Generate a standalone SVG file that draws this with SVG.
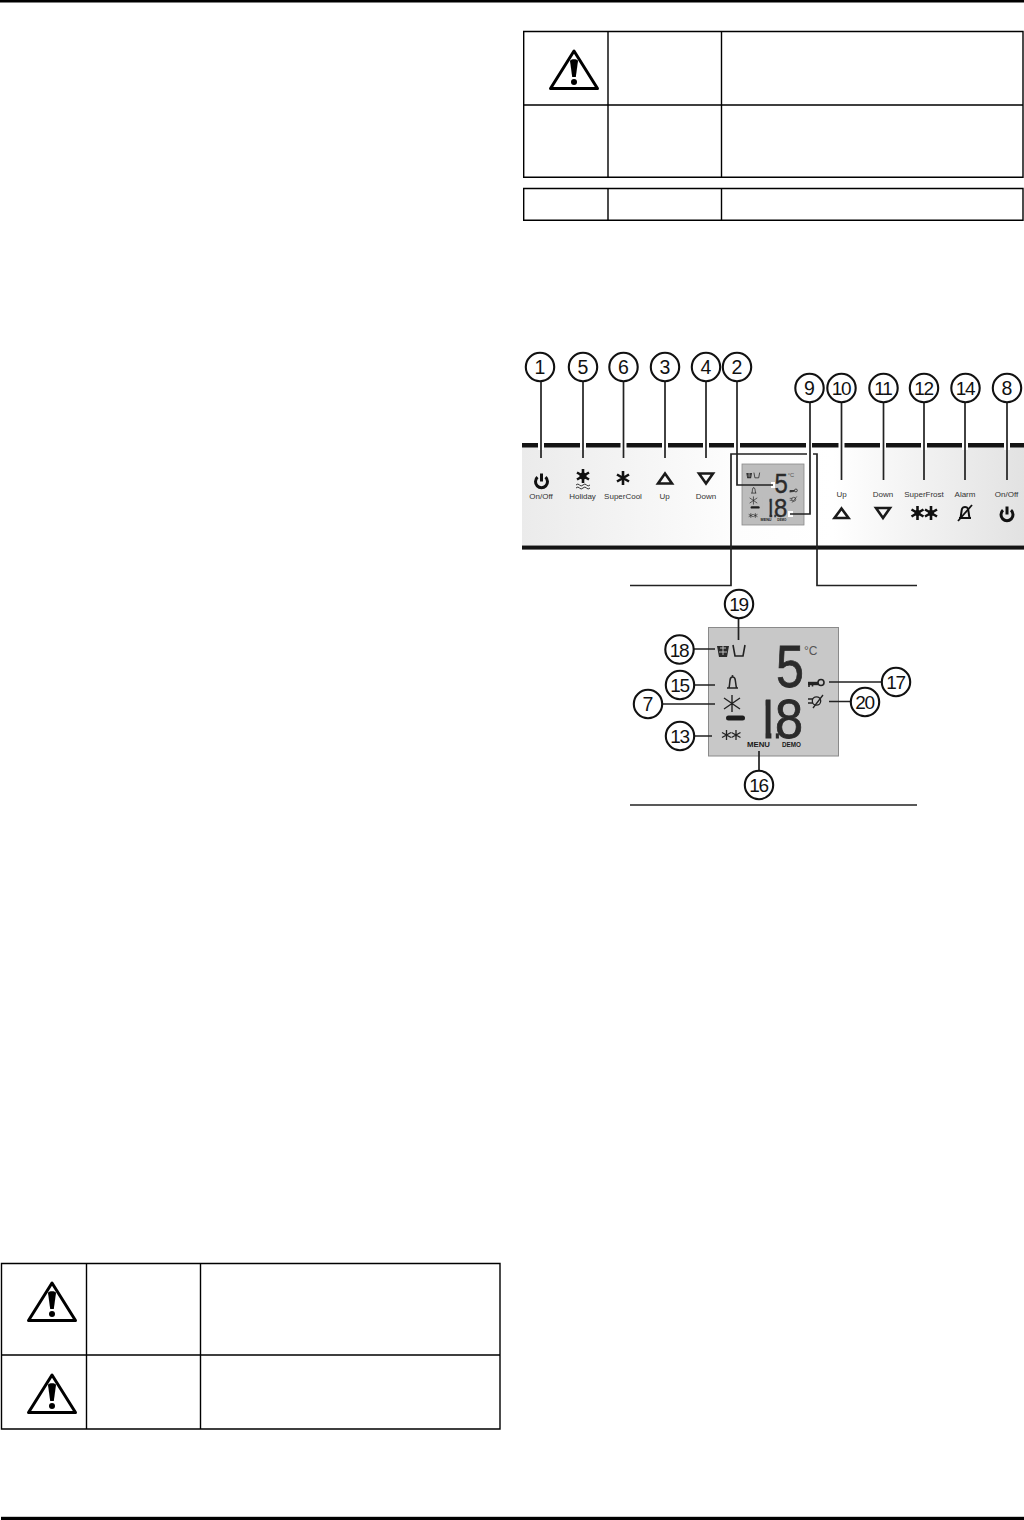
<svg xmlns="http://www.w3.org/2000/svg" xmlns:xlink="http://www.w3.org/1999/xlink" width="1024" height="1520" viewBox="0 0 1024 1520">
<style>
text{font-family:"Liberation Sans",Arial,sans-serif}
.tb{fill:none;stroke:#000;stroke-width:1.4}
.tri{fill:#fff;stroke:#000;stroke-width:3;stroke-linejoin:round}
.num{font-size:19.5px;fill:#111;text-anchor:middle}
.n2{font-size:19px;letter-spacing:-1.2px}
.c{fill:#fff;stroke:#111;stroke-width:2.1}
.ld{fill:none;stroke:#222;stroke-width:1.7}
.halo{fill:none;stroke:#fff;stroke-width:6}
.lbl{font-size:8px;fill:#333;text-anchor:middle}
.ic{fill:none;stroke:#1a1a1a;stroke-width:2.6}
.seg{fill:#2b2b2b;stroke:#2b2b2b;stroke-width:.8}
</style>
<defs>
<linearGradient id="pg" x1="0" x2="1" y1="0" y2="0"><stop offset="0" stop-color="#ebebeb"/><stop offset=".42" stop-color="#fdfdfd"/><stop offset=".62" stop-color="#ffffff"/><stop offset="1" stop-color="#e2e2e2"/></linearGradient>
<g id="warn"><path class="tri" d="M0 4L-23.500 41.500H23.500Z"/><path d="M-4 14C-4 11.500 4 11.500 4 14L1.800 30H-1.800Z" fill="#000"/><circle cx="0" cy="35" r="3" fill="#000"/></g>
<g id="power"><path d="M-4 -3.800A6 6 0 1 0 4 -3.800" fill="none" stroke="#111" stroke-width="3"/><path d="M0 -7.500V0.500" stroke="#111" stroke-width="3"/></g>
<g id="ast"><path d="M0 -7V7M-6 -3.500L6 3.500M-6 3.500L6 -3.500" stroke="#111" stroke-width="2.600" fill="none"/></g>
<g id="ast2"><path d="M0 -5V5M-4.500 -2.500L4.500 2.500M-4.500 2.500L4.500 -2.500" stroke="#222" stroke-width="1.300" fill="none"/></g>
<g id="icons">
<path d="M717 646L719 657H727L729 646Z" fill="#2a2a2a"/><path d="M720 648H726M723 646V655M719 652L727 652" stroke="#c8c8c8" stroke-width=".9"/>
<path d="M733 645L735 656H743L745 645" fill="none" stroke="#222" stroke-width="1.600"/>
<path d="M727 688H738M729 688C730.500 681 729 677 732.500 677C736 677 735 681 736.500 688" fill="none" stroke="#222" stroke-width="1.500"/><circle cx="732.500" cy="676" r="1" fill="#222"/>
<path d="M732 695V712M724 698L740 709M724 709L740 698" fill="none" stroke="#222" stroke-width="1.400"/>
<rect x="726" y="715.500" width="19" height="5" rx="2.500" fill="#1e1e1e"/>
<use xlink:href="#ast2" href="#ast2" x="726.500" y="735"/><use xlink:href="#ast2" href="#ast2" x="736" y="735"/>
<path d="M808 683.500H818" stroke="#222" stroke-width="3.400"/><path d="M809 684V687M812.500 684V686.500" stroke="#222" stroke-width="1.600"/><circle cx="821" cy="682.500" r="3" fill="none" stroke="#222" stroke-width="1.600"/>
<circle cx="816.500" cy="701" r="4.200" fill="none" stroke="#222" stroke-width="1.300"/><path d="M808 699H813M808 703H813M813 708L823 695" stroke="#222" stroke-width="1.300"/>
</g>
</defs>

<rect width="1024" height="1520" fill="#fff"/>
<rect id="rule-top" x="0" y="0" width="1024" height="2.500" fill="#000"/>
<rect id="rule-bottom" x="1" y="1516.800" width="1023" height="3.200" fill="#000"/>

<g id="table-top">
<path class="tb" d="M523.700 31.500H1023V177.200H523.700ZM523.700 105H1023M608 31.500V177.200M721.500 31.500V177.200"/>
<use xlink:href="#warn" href="#warn" x="574" y="47"/>
</g>
<g id="table-mid">
<path class="tb" d="M523.700 188.500H1023V220.200H523.700ZM608 188.500V220.200M721.500 188.500V220.200"/>
</g>
<g id="table-bottom">
<path class="tb" d="M1.500 1263.500H500V1429H1.500ZM1.500 1355H500M86.500 1263.500V1429M200.500 1263.500V1429"/>
<use xlink:href="#warn" href="#warn" x="52" y="1279"/>
<use xlink:href="#warn" href="#warn" x="52" y="1371"/>
</g>

<g id="panel">
<rect x="522" y="447" width="502" height="99" fill="url(#pg)"/>
<rect x="522" y="443" width="502" height="4.500" fill="#141414"/>
<rect x="522" y="545" width="502" height="1" fill="#8a8a8a"/>
<rect x="522" y="546" width="502" height="3.600" fill="#141414"/>
<rect x="742" y="464" width="62" height="61" fill="#bdbdbd" stroke="#8a8a8a" stroke-width=".8"/>
</g>
<g id="panel-icons">
<use xlink:href="#power" href="#power" x="541.500" y="481"/>
<use xlink:href="#ast" href="#ast" x="583" y="476"/>
<circle cx="583" cy="476" r="3.500" fill="#111"/>
<path d="M576 485q2 -2 3.500 0t3.500 0t3.500 0t3.500 0M576 488q2 -2 3.500 0t3.500 0t3.500 0t3.500 0" fill="none" stroke="#333" stroke-width="1"/>
<use xlink:href="#ast" href="#ast" x="623" y="478"/>
<path class="ic" d="M665 473.500L672 483.500H658Z"/>
<path class="ic" d="M699 473.500H713L706 483.500Z"/>
<path class="ic" d="M841.500 508.500L848.500 518H834.500Z"/>
<path class="ic" d="M876 508H890L883 518Z"/>
<use xlink:href="#ast" href="#ast" x="917.500" y="513"/><use xlink:href="#ast" href="#ast" x="931" y="513"/>
<circle cx="917.500" cy="513" r="3" fill="#111"/><circle cx="931" cy="513" r="3" fill="#111"/>
<path d="M959 518H971M960.500 518C962 510 961 507 965 507C969 507 968 510 969.500 518" fill="none" stroke="#111" stroke-width="2"/><path d="M958 521L972 505" stroke="#111" stroke-width="1.800"/>
<use xlink:href="#power" href="#power" x="1007" y="514"/>
</g>
<g id="panel-labels">
<text class="lbl" x="541" y="498.500">On/Off</text>
<text class="lbl" x="582.500" y="498.500">Holiday</text>
<text class="lbl" x="623" y="498.500">SuperCool</text>
<text class="lbl" x="664.500" y="498.500">Up</text>
<text class="lbl" x="706" y="498.500">Down</text>
<text class="lbl" x="841.500" y="497">Up</text>
<text class="lbl" x="883" y="497">Down</text>
<text class="lbl" x="924" y="497">SuperFrost</text>
<text class="lbl" x="965" y="497">Alarm</text>
<text class="lbl" x="1006.500" y="497">On/Off</text>
</g>

<g id="lcd-small" transform="translate(742 464) scale(.477) translate(-708 -627)">
<use xlink:href="#icons" href="#icons"/>
<text class="seg" transform="translate(776 687) scale(.85 1)" font-size="59">5</text>
<text class="seg" transform="translate(753 738) scale(.9 1)" font-size="56" x="0 24.400">18</text>
<path fill="#bdbdbd" d="M752 695H765.500V740H752ZM771.400 731H775.800V740H771.400Z"/>
<text x="804" y="655" font-size="12" fill="#555">°C</text>
<text x="747" y="747" font-size="7.500" font-weight="700" fill="#1a1a1a" textLength="23" lengthAdjust="spacingAndGlyphs">MENU</text>
<text x="782" y="747" font-size="7.500" font-weight="700" fill="#1a1a1a" textLength="19" lengthAdjust="spacingAndGlyphs">DEMO</text>
</g>

<g id="lcd-large">
<rect x="708.500" y="627.500" width="130" height="128.500" fill="#c8c8c8" stroke="#8a8a8a" stroke-width="1"/>
<use xlink:href="#icons" href="#icons"/>
<text class="seg" transform="translate(776 687) scale(.85 1)" font-size="59">5</text>
<text class="seg" transform="translate(753 738) scale(.9 1)" font-size="56" x="0 24.400">18</text>
<path fill="#c8c8c8" d="M752 695H765.500V740H752ZM771.400 731H775.800V740H771.400Z"/>
<text x="804" y="655" font-size="12" fill="#555">°C</text>
<text x="747" y="747" font-size="7.500" font-weight="700" fill="#1a1a1a" textLength="23" lengthAdjust="spacingAndGlyphs">MENU</text>
<text x="782" y="747" font-size="7.500" font-weight="700" fill="#1a1a1a" textLength="19" lengthAdjust="spacingAndGlyphs">DEMO</text>
</g>

<g id="connectors">
<path class="halo" d="M541 440V450M583 440V450M623.500 440V450M665 440V450M706 440V450M737 440V458M809 440V458M841.500 440V450M883 440V450M924 440V450M965 440V450M1007 440V450"/>
<path class="ld" d="M630 585.500H731V454H807M813 454H817V585.500H917"/>
<path class="ld" d="M630 805H917" stroke-width="1.400"/>
<path class="ld" d="M541 381V458M583 381V458M623.500 381V458M665 381V458M706 381V458"/>
<path class="ld" d="M841.500 402V480M883.500 402V480M924 402V480M965 402V480M1007 402V480"/>
<path class="halo" stroke-width="5" d="M771 485H775M788 514H793"/>
<path class="ld" d="M737 381V485H773"/>
<path class="ld" d="M810 402V514H790"/>
<path class="ld" d="M738.500 618V640M693 649H715M694 685H715M662 704H715M694 736H712M759 771V751M829 682H882M829 701.500H851"/>
</g>

<g id="n1"><circle class="c" cx="540" cy="367" r="14.200"/><text class="num" x="540" y="374">1</text></g>
<g id="n5"><circle class="c" cx="583" cy="367" r="14.200"/><text class="num" x="583" y="374">5</text></g>
<g id="n6"><circle class="c" cx="623.500" cy="367" r="14.200"/><text class="num" x="623.500" y="374">6</text></g>
<g id="n3"><circle class="c" cx="665" cy="367" r="14.200"/><text class="num" x="665" y="374">3</text></g>
<g id="n4"><circle class="c" cx="706" cy="367" r="14.200"/><text class="num" x="706" y="374">4</text></g>
<g id="n2"><circle class="c" cx="737" cy="367" r="14.200"/><text class="num" x="737" y="374">2</text></g>
<g id="n9"><circle class="c" cx="809.500" cy="388" r="14.200"/><text class="num" x="809.500" y="395">9</text></g>
<g id="n10"><circle class="c" cx="841.500" cy="388" r="14.200"/><text class="num n2" x="841" y="395">10</text></g>
<g id="n11"><circle class="c" cx="883.500" cy="388" r="14.200"/><text class="num n2" x="883" y="395">11</text></g>
<g id="n12"><circle class="c" cx="924" cy="388" r="14.200"/><text class="num n2" x="923.500" y="395">12</text></g>
<g id="n14"><circle class="c" cx="965.500" cy="388" r="14.200"/><text class="num n2" x="965" y="395">14</text></g>
<g id="n8"><circle class="c" cx="1007" cy="388" r="14.200"/><text class="num" x="1007" y="395">8</text></g>
<g id="n19"><circle class="c" cx="739" cy="604" r="14.200"/><text class="num n2" x="738.500" y="611">19</text></g>
<g id="n18"><circle class="c" cx="679.500" cy="649.500" r="14.200"/><text class="num n2" x="679" y="656.500">18</text></g>
<g id="n15"><circle class="c" cx="680" cy="685" r="14.200"/><text class="num n2" x="679.500" y="692">15</text></g>
<g id="n7"><circle class="c" cx="648" cy="704" r="14.200"/><text class="num" x="648" y="711">7</text></g>
<g id="n13"><circle class="c" cx="680" cy="736" r="14.200"/><text class="num n2" x="679.500" y="743">13</text></g>
<g id="n16"><circle class="c" cx="759" cy="785" r="14.200"/><text class="num n2" x="758.500" y="792">16</text></g>
<g id="n17"><circle class="c" cx="896" cy="682" r="14.200"/><text class="num n2" x="895.500" y="689">17</text></g>
<g id="n20"><circle class="c" cx="865" cy="702" r="14.200"/><text class="num n2" x="864.500" y="709">20</text></g>
</svg>
